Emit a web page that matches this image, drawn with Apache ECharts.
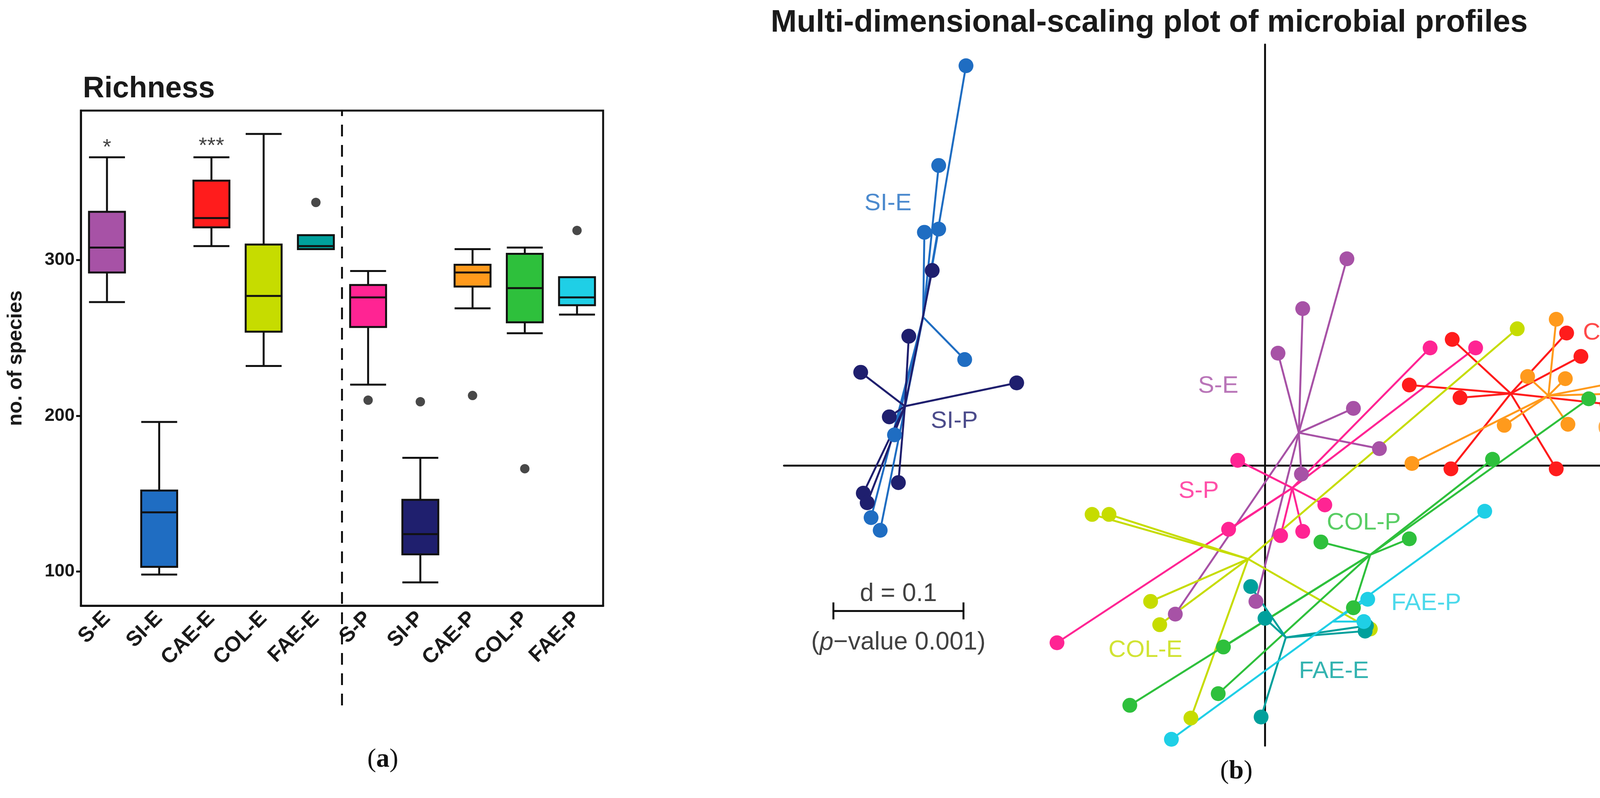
<!DOCTYPE html>
<html>
<head>
<meta charset="utf-8">
<script src="https://cdn.jsdelivr.net/npm/echarts@6/dist/echarts.min.js"></script>
<style>
html,body{margin:0;padding:0;background:#fff}
#chart{width:4379px;height:2042px}
</style>
</head>
<body>
<div id="chart"></div>
<script>
// ---- panel (a): richness boxplots ----
var groups = ['S-E','SI-E','CAE-E','COL-E','FAE-E','S-P','SI-P','CAE-P','COL-P','FAE-P'];
var groupColors = ['#a752a6','#1f6dc2','#ff1c1c','#c6dc00','#00a09c','#ff2493','#1f1f6e','#ff9a1c','#2ec03c','#1fcfe6'];
// [min, Q1, median, Q3, max]
var boxStats = [
  [273,292,308,331,366],
  [98,103,138,152,196],
  [309,321,327,351,366],
  [232,254,277,310,381],
  [307,307,309,316,316],
  [220,257,276,284,293],
  [93,111,124,146,173],
  [269,283,292,297,307],
  [253,260,282,304,308],
  [265,271,276,289,289]
];
var outliers = [[4,337],[5,210],[6,209],[7,213],[8,166],[9,319]];
var stars = [[0,372,'*'],[2,373,'***']];
var yTicks = [100,200,300];

// ---- panel (b): MDS ----
var mdsNames = ['SI-E','SI-P','S-E','S-P','CAE-E','CAE-P','COL-E','COL-P','FAE-E','FAE-P'];
var mdsColors = ['#1f6dc2','#1f1f6e','#a752a6','#ff2493','#ff1c1c','#ff9a1c','#c6dc00','#2ec03c','#00a09c','#1fcfe6'];
var centroids = [
  [-0.263,0.140],[-0.277,0.056],[0.026,0.031],[0.021,-0.021],[0.189,0.068],
  [0.218,0.066],[-0.013,-0.088],[0.081,-0.084],[0.016,-0.162],[0.052,-0.147]
];
var SI_E = [[-0.230,0.377],[-0.251,0.283],[-0.262,0.220],[-0.251,0.223],[-0.231,0.100],[-0.303,-0.049],[-0.296,-0.061],[-0.285,0.029]];
var SI_P = [[-0.256,0.184],[-0.274,0.122],[-0.311,0.088],[-0.191,0.078],[-0.289,0.046],[-0.282,-0.016],[-0.309,-0.026],[-0.306,-0.035]];
var S_E = [[0.063,0.195],[0.029,0.148],[0.010,0.106],[0.068,0.054],[0.088,0.016],[0.028,-0.008],[-0.069,-0.140],[-0.007,-0.128]];
var S_P = [[0.127,0.111],[0.162,0.111],[-0.021,0.005],[0.046,-0.037],[0.029,-0.062],[0.012,-0.066],[-0.028,-0.060],[-0.160,-0.167]];
var CAE_E = [[0.144,0.119],[0.232,0.125],[0.243,0.103],[0.111,0.076],[0.150,0.064],[0.263,0.058],[0.143,-0.003],[0.224,-0.003]];
var CAE_P = [[0.224,0.138],[0.202,0.084],[0.231,0.082],[0.281,0.081],[0.274,0.068],[0.184,0.038],[0.233,0.039],[0.113,0.002]];
var COL_E = [[0.194,0.129],[-0.133,-0.046],[-0.120,-0.046],[-0.088,-0.128],[-0.081,-0.150],[0.081,-0.154],[-0.057,-0.238]];
var COL_P = [[0.249,0.063],[0.175,0.006],[0.043,-0.072],[0.111,-0.069],[0.068,-0.134],[-0.032,-0.171],[-0.104,-0.226],[-0.036,-0.215]];
var FAE_E = [[-0.011,-0.114],[0.000,-0.144],[0.077,-0.156],[0.078,-0.151],[-0.003,-0.237]];
var FAE_P = [[0.169,-0.043],[0.079,-0.126],[0.076,-0.147],[-0.072,-0.258]];
var mdsPoints = [SI_E,SI_P,S_E,S_P,CAE_E,CAE_P,COL_E,COL_P,FAE_E,FAE_P];
var labelPos = [
  [-0.290,0.247],[-0.239,0.042],[-0.036,0.075],[-0.051,-0.024],[0.273,0.125],
  [0.284,0.035],[-0.092,-0.174],[0.076,-0.054],[0.053,-0.194],[0.124,-0.130]
];
var scaleBar = [[-0.332,-0.137],[-0.232,-0.137]];

var chart = echarts.init(document.getElementById('chart'), null, {renderer:'canvas'});
var font = '"Liberation Sans", Arial, sans-serif';
var narrow = '"Liberation Sans Narrow", ' + font;

// invisible carrier symbol so the text labels are drawn
var textMark = {symbol:'circle', symbolSize:1, itemStyle:{color:'rgba(0,0,0,0)'}};

var series = [];
series.push({
  type:'boxplot', xAxisIndex:0, yAxisIndex:0, boxWidth:[92,92],
  data: boxStats.map(function(s,i){
    return {value:s, itemStyle:{color:groupColors[i], borderColor:'#111', borderWidth:5}};
  })
});
series.push({
  type:'scatter', xAxisIndex:0, yAxisIndex:0, symbolSize:24,
  itemStyle:{color:'#1a1a1a'}, data: outliers
});
series.push(Object.assign({
  type:'scatter', xAxisIndex:0, yAxisIndex:0,
  data: stars.map(function(s){return {value:[s[0],s[1]], name:s[2]};}),
  label:{show:true, position:'inside', formatter:'{b}', fontSize:56, color:'#111', fontFamily:font}
}, textMark));
series.push({
  type:'line', xAxisIndex:1, yAxisIndex:0, symbol:'none', silent:true, clip:false,
  lineStyle:{color:'#111', width:5, type:[30,22]},
  data:[[4.5,14],[4.5,396]]
});
// MDS
mdsPoints.forEach(function(pts,g){
  series.push({
    type:'lines', coordinateSystem:'cartesian2d', xAxisIndex:2, yAxisIndex:1,
    lineStyle:{color:mdsColors[g], width:5, opacity:1},
    data: pts.map(function(p){return {coords:[centroids[g],p]};}), z:2
  });
});
mdsPoints.forEach(function(pts,g){
  series.push({
    type:'scatter', xAxisIndex:2, yAxisIndex:1, symbolSize:38,
    itemStyle:{color:mdsColors[g], opacity:1}, data:pts, z:3
  });
});
series.push(Object.assign({
  type:'scatter', xAxisIndex:2, yAxisIndex:1, z:4,
  data: labelPos.map(function(p,g){
    return {value:p, name:mdsNames[g], label:{color:mdsColors[g]}};
  }),
  label:{show:true, position:'inside', formatter:'{b}', fontSize:62, fontFamily:font}
}, textMark));
series.push({
  type:'lines', coordinateSystem:'cartesian2d', xAxisIndex:2, yAxisIndex:1,
  lineStyle:{color:'#111', width:5, opacity:1},
  data:[
    {coords:scaleBar},
    {coords:[[scaleBar[0][0],scaleBar[0][1]-0.008],[scaleBar[0][0],scaleBar[0][1]+0.008]]},
    {coords:[[scaleBar[1][0],scaleBar[1][1]-0.008],[scaleBar[1][0],scaleBar[1][1]+0.008]]}
  ]
});
series.push(Object.assign({
  type:'scatter', xAxisIndex:2, yAxisIndex:1,
  data:[
    {value:[(scaleBar[0][0]+scaleBar[1][0])/2, scaleBar[0][1]+0.016], name:'d = 0.1'},
    {value:[(scaleBar[0][0]+scaleBar[1][0])/2, scaleBar[0][1]-0.030], name:'({i|p}\u2212value 0.001)'}
  ],
  label:{show:true, position:'inside', formatter:'{b}', fontSize:64, color:'#111', fontFamily:font,
    rich:{i:{fontStyle:'italic', fontSize:64, fontFamily:font, color:'#111'}}}
}, textMark));

chart.setOption({
  animation:false,
  backgroundColor:'#fff',
  title:[
    {text:'Richness', left:207, top:185, textStyle:{fontSize:76, fontWeight:'bold', color:'#1a1a1a', fontFamily:narrow}},
    {text:'Multi-dimensional-scaling plot of microbial profiles', left:1968, top:14, textStyle:{fontSize:80, fontWeight:'bold', color:'#1a1a1a', fontFamily:narrow}},
    {text:'({a|a})', left:975, top:1905, textAlign:'center', textStyle:{fontSize:68, fontWeight:'normal', color:'#111', fontFamily:'"Liberation Serif", serif', rich:{a:{fontSize:68, fontWeight:'bold', fontFamily:'"Liberation Serif", serif'}}}},
    {text:'({a|b})', left:3160, top:1935, textAlign:'center', textStyle:{fontSize:68, fontWeight:'normal', color:'#111', fontFamily:'"Liberation Serif", serif', rich:{a:{fontSize:68, fontWeight:'bold', fontFamily:'"Liberation Serif", serif'}}}}
  ],
  grid:[
    {left:207, top:283, width:1337, height:1267, show:true, borderColor:'#111', borderWidth:5, backgroundColor:'transparent'},
    {left:2007, top:114, width:2363, height:1794}
  ],
  xAxis:[
    {type:'category', gridIndex:0, data:groups, boundaryGap:true,
     axisLine:{lineStyle:{color:'#111', width:5}},
     axisTick:{alignWithLabel:true, length:12, lineStyle:{width:5, color:'#111'}},
     axisLabel:{rotate:45, fontSize:54, fontWeight:'bold', color:'#1a1a1a', margin:24, fontFamily:font}},
    {type:'value', gridIndex:0, min:-0.5, max:9.5, show:false},
    {type:'value', gridIndex:1, min:-0.370, max:0.340,
     axisLine:{onZero:true, lineStyle:{color:'#111', width:5}},
     axisTick:{show:false}, axisLabel:{show:false}, splitLine:{show:false}}
  ],
  yAxis:[
    {type:'value', gridIndex:0, min:78, max:396,
     name:'no. of species', nameLocation:'middle', nameGap:140,
     nameTextStyle:{fontSize:52, fontWeight:'bold', color:'#1a1a1a', fontFamily:font},
     axisLine:{show:true, onZero:false, lineStyle:{color:'#111', width:5}},
     axisTick:{show:true, customValues:yTicks, length:12, lineStyle:{width:5, color:'#111'}},
     axisLabel:{customValues:yTicks, fontSize:46, fontWeight:'bold', color:'#1a1a1a', margin:16, fontFamily:narrow},
     splitLine:{show:false}},
    {type:'value', gridIndex:1, min:-0.264, max:0.397,
     axisLine:{onZero:true, lineStyle:{color:'#111', width:5}},
     axisTick:{show:false}, axisLabel:{show:false}, splitLine:{show:false}}
  ],
  series:series
});
</script>
</body>
</html>
